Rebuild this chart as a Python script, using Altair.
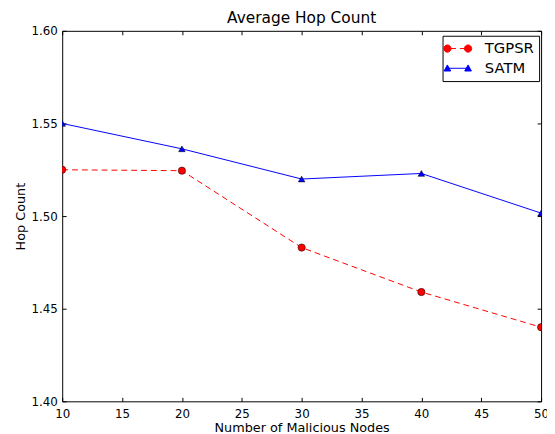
import altair as alt
import pandas as pd

# ---- data ----
nodes = [10, 20, 30, 40, 50]
tgpsr = [1.525, 1.5245, 1.483, 1.459, 1.440]
satm = [1.550, 1.5363, 1.520, 1.523, 1.5016]
series_names = ["TGPSR", "SATM"]
x_ticks = [10, 15, 20, 25, 30, 35, 40, 45, 50]
y_ticks = [1.40, 1.45, 1.50, 1.55, 1.60]

df = pd.DataFrame({
    "nodes": nodes * 2,
    "hop": tgpsr + satm,
    "series": [series_names[0]] * len(nodes) + [series_names[1]] * len(nodes),
})

FONT = "DejaVu Sans"
RED = "#ff0000"
BLUE = "#0000ff"

xscale = alt.Scale(domain=[10, 50], nice=False, zero=False)
yscale = alt.Scale(domain=[1.40, 1.60], nice=False, zero=False)

common_axis = dict(offset=-4, tickSize=4, domain=False, grid=False,
                   labelFlush=False, labelOverlap=False, tickColor="black")

x_main = alt.X("nodes:Q", scale=xscale,
               axis=alt.Axis(values=x_ticks, title="Number of Malicious Nodes",
                             orient="bottom", labelPadding=7, titlePadding=3,
                             **common_axis))
y_main = alt.Y("hop:Q", scale=yscale,
               axis=alt.Axis(values=y_ticks, format=".2f", title="Hop Count",
                             orient="left", labelPadding=5, titlePadding=4,
                             **common_axis))
x_top = alt.X("nodes:Q", scale=xscale,
              axis=alt.Axis(values=x_ticks, title=None, labels=False,
                            orient="top", **common_axis))
y_right = alt.Y("hop:Q", scale=yscale,
                axis=alt.Axis(values=y_ticks, title=None, labels=False,
                              orient="right", **common_axis))
x_none = alt.X("nodes:Q", scale=xscale, axis=None)
y_none = alt.Y("hop:Q", scale=yscale, axis=None)

base = alt.Chart(df)

tg_line = base.transform_filter(alt.datum.series == "TGPSR").mark_line(
    color=RED, strokeWidth=1, strokeDash=[6, 4], clip=True
).encode(x=x_main, y=y_main)

tg_pts = base.transform_filter(alt.datum.series == "TGPSR").mark_point(
    shape="circle", filled=True, size=55, fill=RED, stroke="black",
    strokeWidth=0.5, opacity=1, clip=True
).encode(x=x_none, y=y_none)

sa_line = base.transform_filter(alt.datum.series == "SATM").mark_line(
    color=BLUE, strokeWidth=1, clip=True
).encode(x=x_none, y=y_none)

sa_pts = base.transform_filter(alt.datum.series == "SATM").mark_point(
    shape="triangle-up", filled=True, size=45, fill=BLUE, stroke="black",
    strokeWidth=0.5, opacity=1, clip=True
).encode(x=x_none, y=y_none)

# legend symbols: marker - line - marker, drawn as custom paths
# (unit = 7.5 px; the symbol deliberately extends beyond -1..1 horizontally)
path_tg = ("M-1.4,0H-0.23M0.28,0H1.4"
           "M-1.89,0A0.49,0.49 0 1,0 -0.91,0A0.49,0.49 0 1,0 -1.89,0Z"
           "M0.91,0A0.49,0.49 0 1,0 1.89,0A0.49,0.49 0 1,0 0.91,0Z")
path_sa = ("M-1.4,0H1.4"
           "M-1.4,-0.45L-0.95,0.37L-1.85,0.37Z"
           "M1.4,-0.45L1.85,0.37L0.95,0.37Z")

legend = alt.Legend(title=None, orient="none", legendX=386, legendY=5,
                    padding=5, strokeColor="black", fillColor="white",
                    symbolSize=225, symbolStrokeWidth=1, symbolOpacity=1,
                    symbolOffset=2.4, labelFont=FONT, labelFontSize=15,
                    labelOffset=19.5, rowPadding=4, cornerRadius=0,
                    labelColor="black")

legend_layer = base.transform_filter("false").mark_point(filled=True, opacity=1).encode(
    x=x_top, y=y_right,
    fill=alt.Fill("series:N", scale=alt.Scale(domain=series_names, range=[RED, BLUE]), legend=legend),
    stroke=alt.Stroke("series:N", scale=alt.Scale(domain=series_names, range=[RED, BLUE]), legend=legend),
    shape=alt.Shape("series:N", scale=alt.Scale(domain=series_names, range=[path_tg, path_sa]), legend=legend),
)

chart = alt.layer(tg_line, sa_line, tg_pts, sa_pts, legend_layer).resolve_axis(
    x="independent", y="independent"
).properties(
    width=486, height=376,
    title=alt.Title("Average Hop Count", font=FONT, fontSize=15.6,
                    fontWeight="normal", color="black", anchor="middle",
                    offset=2, dy=4),
    autosize=alt.AutoSizeParams(type="none"),
    padding={"left": 55, "top": 20, "right": 6, "bottom": 30},
    background="white",
).configure_axis(
    labelFont=FONT, labelFontSize=12, labelColor="black",
    titleFont=FONT, titleFontSize=13, titleFontWeight="normal",
    titleColor="black",
).configure_view(stroke="black", strokeWidth=1)

chart.save("out.html", embed_options={"renderer": "svg", "actions": False})
